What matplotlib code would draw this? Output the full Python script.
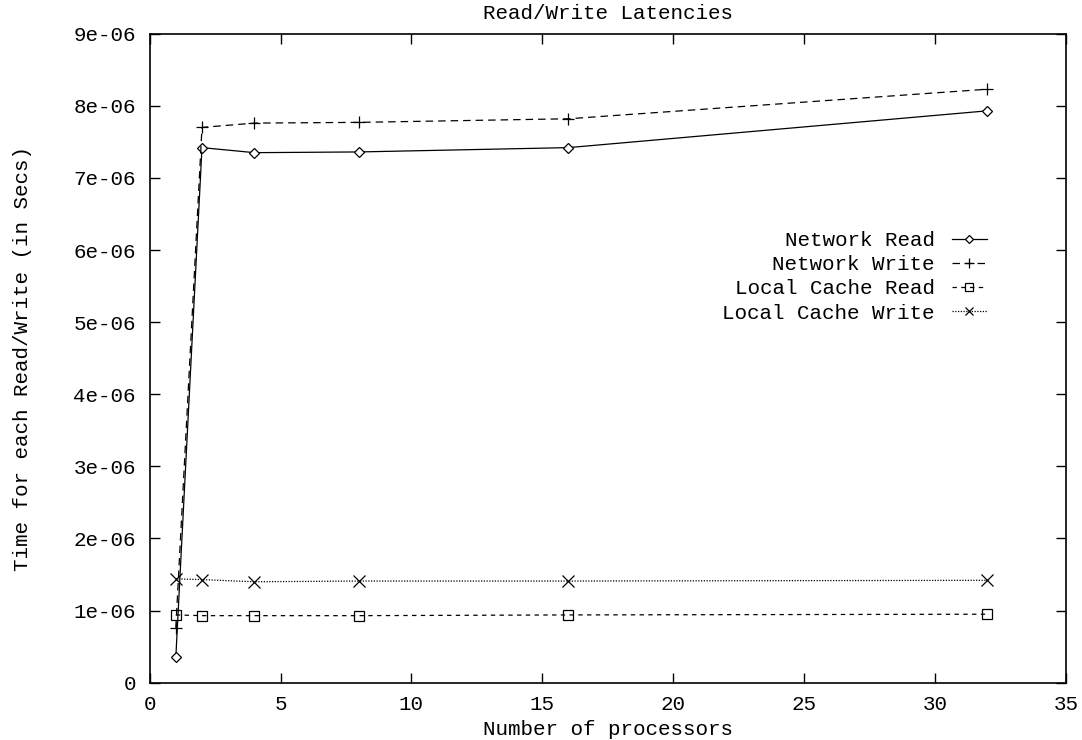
import numpy as np
import matplotlib
matplotlib.use("Agg")
import matplotlib.pyplot as plt
from matplotlib.ticker import FuncFormatter, MultipleLocator

# data (seconds)
procs = [1, 2, 4, 8, 16, 32]
net_read = [0.35e-6, 7.42e-6, 7.35e-6, 7.36e-6, 7.42e-6, 7.93e-6]
net_write = [0.76e-6, 7.70e-6, 7.76e-6, 7.77e-6, 7.82e-6, 8.23e-6]
cache_read = [0.94e-6, 0.93e-6, 0.93e-6, 0.93e-6, 0.94e-6, 0.95e-6]
cache_write = [1.44e-6, 1.43e-6, 1.40e-6, 1.41e-6, 1.41e-6, 1.42e-6]

FONT = "Liberation Mono"
FS = 15

plt.rcParams['font.family'] = FONT
plt.rcParams['font.size'] = FS

fig = plt.figure(figsize=(10.82, 7.4), dpi=100)
ax = fig.add_axes([0.1383, 0.0774, 0.9850 - 0.1383, 0.9545 - 0.0774])

lw = 0.9
ax.plot(procs, net_read, color='black', lw=lw, ls='-',
        marker='D', ms=5.5, mfc='white', mec='black', mew=0.9, label='Network Read')
ax.plot(procs, net_write, color='black', lw=lw, ls=(0, (6, 4)),
        marker='+', ms=9, mec='black', mew=0.9, label='Network Write')
ax.plot(procs, cache_read, color='black', lw=lw, ls=(0, (3.5, 3.5)),
        marker='s', ms=7, mfc='none', mec='black', mew=0.9, label='Local Cache Read')
ax.plot(procs, cache_write, color='black', lw=lw, ls=(0, (1, 1.2)),
        marker='x', ms=8, mec='black', mew=0.9, label='Local Cache Write')

ax.set_xlim(0, 35)
ax.set_ylim(0, 9e-6)
ax.xaxis.set_major_locator(MultipleLocator(5))
ax.yaxis.set_major_locator(MultipleLocator(1e-6))
ax.yaxis.set_major_formatter(FuncFormatter(lambda v, p: '0' if abs(v) < 1e-12 else f'{v:.0e}'))

ax.tick_params(direction='in', length=7, width=1, top=True, right=True,
               labelsize=FS)
ax.tick_params(axis='y', pad=10)
ax.tick_params(axis='x', pad=9)
for s in ax.spines.values():
    s.set_linewidth(1.2)

ax.set_title('Read/Write Latencies', fontsize=FS, pad=10.5)
ax.set_xlabel('Number of processors', fontsize=FS, labelpad=4.5)
ax.set_ylabel('Time for each Read/Write (in Secs)', fontsize=FS, labelpad=30)

ax.legend(loc='upper right', bbox_to_anchor=(0.914, 0.696), frameon=False,
          markerfirst=False, handlelength=1.7, handletextpad=0.8,
          labelspacing=0.25, borderpad=0, borderaxespad=0, fontsize=FS,
          markerscale=0.8)

fig.savefig('out.png', dpi=100)
